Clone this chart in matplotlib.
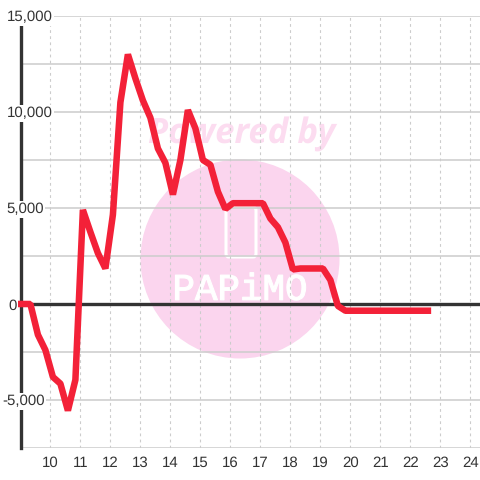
import matplotlib
matplotlib.use('Agg')
import matplotlib.pyplot as plt
import matplotlib.patheffects as pe
from matplotlib.patches import Circle, FancyBboxPatch
from matplotlib.transforms import Affine2D, IdentityTransform, blended_transform_factory
import matplotlib.ticker as mticker

plt.rcParams['font.family'] = ['Liberation Sans', 'DejaVu Sans']
plt.rcParams['text.hinting'] = 'no_hinting'

hours = [9.0, 9.33, 9.58, 9.83, 10.08, 10.33, 10.58, 10.83, 11.08, 11.33, 11.58, 11.83, 12.08,
         12.33, 12.58, 12.83, 13.08, 13.33, 13.58, 13.83, 14.08, 14.33, 14.58, 14.83, 15.08,
         15.33, 15.58, 15.83, 16.08, 16.33, 16.58, 16.83, 17.08, 17.33, 17.58, 17.83, 18.08,
         18.33, 18.58, 18.83, 19.08, 19.33, 19.58, 19.83, 20.08, 20.33, 20.58, 20.83, 21.08,
         21.33, 21.58, 21.83, 22.08, 22.33, 22.58]
values = [0, 0, -1600, -2400, -3800, -4150, -5550, -3950, 4900, 3750, 2650, 1850, 4650,
          10500, 13000, 11750, 10600, 9700, 8100, 7350, 5700, 7500, 10100, 9150, 7500,
          7250, 5850, 4950, 5250, 5250, 5250, 5250, 5250, 4450, 4000, 3200, 1800,
          1850, 1850, 1850, 1850, 1250, -100, -350, -350, -350, -350, -350, -350,
          -350, -350, -350, -350, -350, -350]

x_ticks = list(range(10, 25))
y_grid = [-7500, -5000, -2500, 0, 2500, 5000, 7500, 10000, 12500, 15000]
y_labels = {15000: '15,000', 10000: '10,000', 5000: '5,000', 0: '0', -5000: '-5,000'}
label_left = {15000: 6.5, 10000: 6.5, 5000: 6.5, 0: 8, -5000: 2}

fig = plt.figure(figsize=(4.8, 4.8), dpi=100, facecolor='white')
ax = fig.add_axes([20.5 / 480, 32 / 480, 459.5 / 480, 432 / 480])
ax.set_xlim(9, 24.317)
ax.set_ylim(-7500, 15000)
ax.patch.set_visible(False)
for side in ax.spines.values():
    side.set_visible(False)

# watermark behind the chart
px = IdentityTransform()
fig.patches.append(Circle((240, 221), 99.5, transform=px, fc='#fbd5ee', ec='none', zorder=-5))
fig.patches.append(FancyBboxPatch((226, 223), 30, 50, boxstyle='round,pad=0,rounding_size=3', transform=px,
                                  fc='none', ec='white', lw=2.2, zorder=-4))
fig.text(242, 346, 'Powered by', transform=px, ha='center', va='center', fontsize=25, color='#fcdcf0',
         fontweight='bold', fontstyle='italic', family='Open Sans', zorder=-4)
fig.text(240, 190, 'PAPiMO', transform=px, ha='center', va='center', fontsize=27, color='white',
         family='Liberation Mono', zorder=-4,
         path_effects=[pe.withStroke(linewidth=0.8, foreground='white')])

# grid
ax.set_xticks(x_ticks)
ax.set_yticks(y_grid)
ax.yaxis.set_major_formatter(mticker.NullFormatter())
ax.tick_params(length=0, axis='both')
ax.tick_params(axis='x', labelsize=10.8, labelcolor='#333333', pad=6)
ax.grid(axis='y', color='#cccccc', lw=1.1, zorder=1)
ax.grid(axis='x', color='#cccccc', lw=0.8, ls=(0, (2.5, 3)), zorder=1)
ax.set_axisbelow(True)

ax.axvline(9, color='#333333', lw=2.4, zorder=2, clip_on=False)
ax.axhline(0, color='#333333', lw=2.4, zorder=2)
ax.plot(hours, values, color='#f32138', lw=4.7, solid_joinstyle='bevel', solid_capstyle='projecting',
        zorder=3, clip_on=False)

# y labels sit a little under their grid line, on a white box that cuts the axis line
trans = blended_transform_factory(px, ax.transData) + Affine2D().translate(0, -1.5)
for val, text in y_labels.items():
    ax.text(label_left[val], val, text, transform=trans, ha='left', va='center', fontsize=10.8, color='#333333',
            bbox=dict(fc='white', ec='none', pad=1), zorder=4, clip_on=False)

fig.savefig('out.png', dpi=100)
